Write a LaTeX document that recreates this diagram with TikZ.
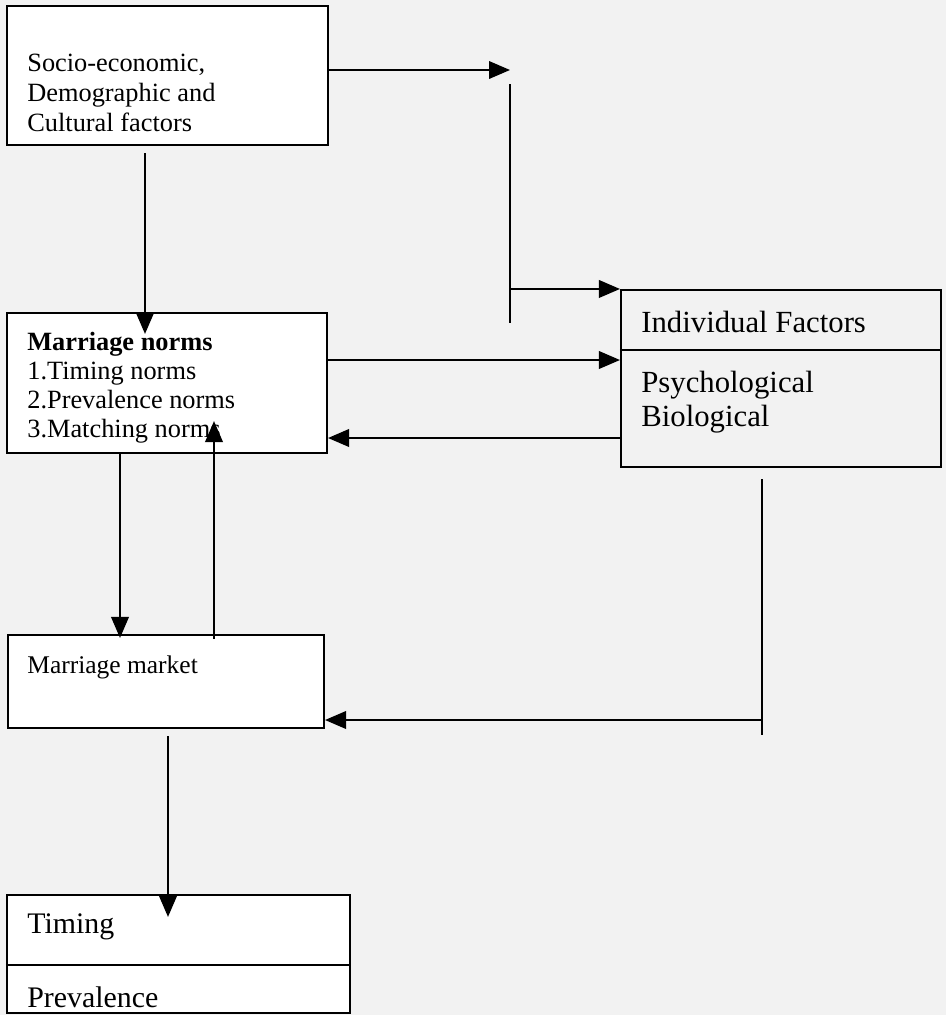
\documentclass[tikz,border=0pt]{standalone}
\usepackage{fontspec}
\setmainfont{Liberation Serif}
\usetikzlibrary{arrows.meta,calc}
\tikzset{
  box/.style={draw=black, line width=1.2pt, fill=white, inner sep=0pt},
  wire/.style={line width=1.2pt, draw=black},
  arrow/.style={wire, -{Triangle[length=0.42cm, width=0.35cm]}},
  boxtext/.style={anchor=base west, inner sep=0pt, align=left},
}
\begin{document}
\begin{tikzpicture}[x=0.02cm, y=-0.02cm]
\useasboundingbox (0,0) rectangle (946,1015);
\fill[black!5] (0,0) rectangle (946,1015);
% boxes
\node[box, minimum width=6.42cm, minimum height=2.78cm] (socio) at (167.5,75.5) {};
\node[box, minimum width=6.40cm, minimum height=2.80cm] (norms) at (167,383) {};
\node[box, fill=black!5, minimum width=6.40cm, minimum height=3.54cm] (indiv) at (781,378.5) {};
\node[box, minimum width=6.32cm, minimum height=1.86cm] (market) at (166,681.5) {};
\node[box, minimum width=6.86cm, minimum height=2.36cm] (timing) at (178.5,954) {};
\draw[wire] (indiv.west |- 0,350) -- (indiv.east |- 0,350);
\draw[wire] (timing.west |- 0,965) -- (timing.east |- 0,965);
% texts (base = last line)
\node[boxtext, font=\fontsize{15}{17}\selectfont] (socio-t) at (27,131)
  {Socio-economic,\\Demographic and\\Cultural factors};
\node[boxtext, font=\fontsize{15}{16.5}\selectfont] (norms-t) at (27,437)
  {\textbf{Marriage norms}\\1.Timing norms\\2.Prevalence norms\\3.Matching norms};
\node[boxtext, font=\fontsize{17.5}{19}\selectfont] (indiv-t) at (641,332) {Individual Factors};
\node[boxtext, font=\fontsize{17.5}{19}\selectfont] (kinds-t) at (641,426) {Psychological\\Biological};
\node[boxtext, font=\fontsize{14.5}{17}\selectfont] (market-t) at (27,673) {Marriage market};
\node[boxtext, font=\fontsize{17}{19}\selectfont] (timing-t) at (27,933) {Timing};
\node[boxtext, font=\fontsize{17}{19}\selectfont] (prev-t) at (27,1007) {Prevalence};
% connectors
\coordinate (top) at (510,70);
\coordinate (v1a) at (510,84);
\coordinate (v1b) at (510,323);
\draw[arrow] (socio.east |- top) -- (top);
\draw[wire] (v1a) -- (v1b);
\draw[arrow] (v1b |- indiv.north west) -- (indiv.north west);
\coordinate (n2i) at (0,360);
\coordinate (i2n) at (0,438);
\draw[arrow] (norms.east |- n2i) -- (indiv.west |- n2i);
\draw[arrow] (indiv.west |- i2n) -- (norms.east |- i2n);
\coordinate (d1) at (145,0);
\draw[arrow] ($(socio.south -| d1)+(0,7)$) -- ($(norms.north -| d1)+(0,22)$);
\coordinate (d2) at (120,0);
\draw[arrow] (norms.south -| d2) -- ($(market.north -| d2)+(0,4)$);
\coordinate (u1) at (214,0);
\draw[arrow] ($(market.north -| u1)+(0,5)$) -- ($(norms.south -| u1)+(0,-33)$);
\coordinate (r1) at (762,720);
\draw[wire] ($(indiv.south -| r1)+(0,11)$) -- ($(r1)+(0,15)$);
\draw[arrow] (r1) -- (market.east |- r1);
\coordinate (d3) at (168,0);
\draw[arrow] ($(market.south -| d3)+(0,7)$) -- ($(timing.north -| d3)+(0,23)$);
\end{tikzpicture}
\end{document}
